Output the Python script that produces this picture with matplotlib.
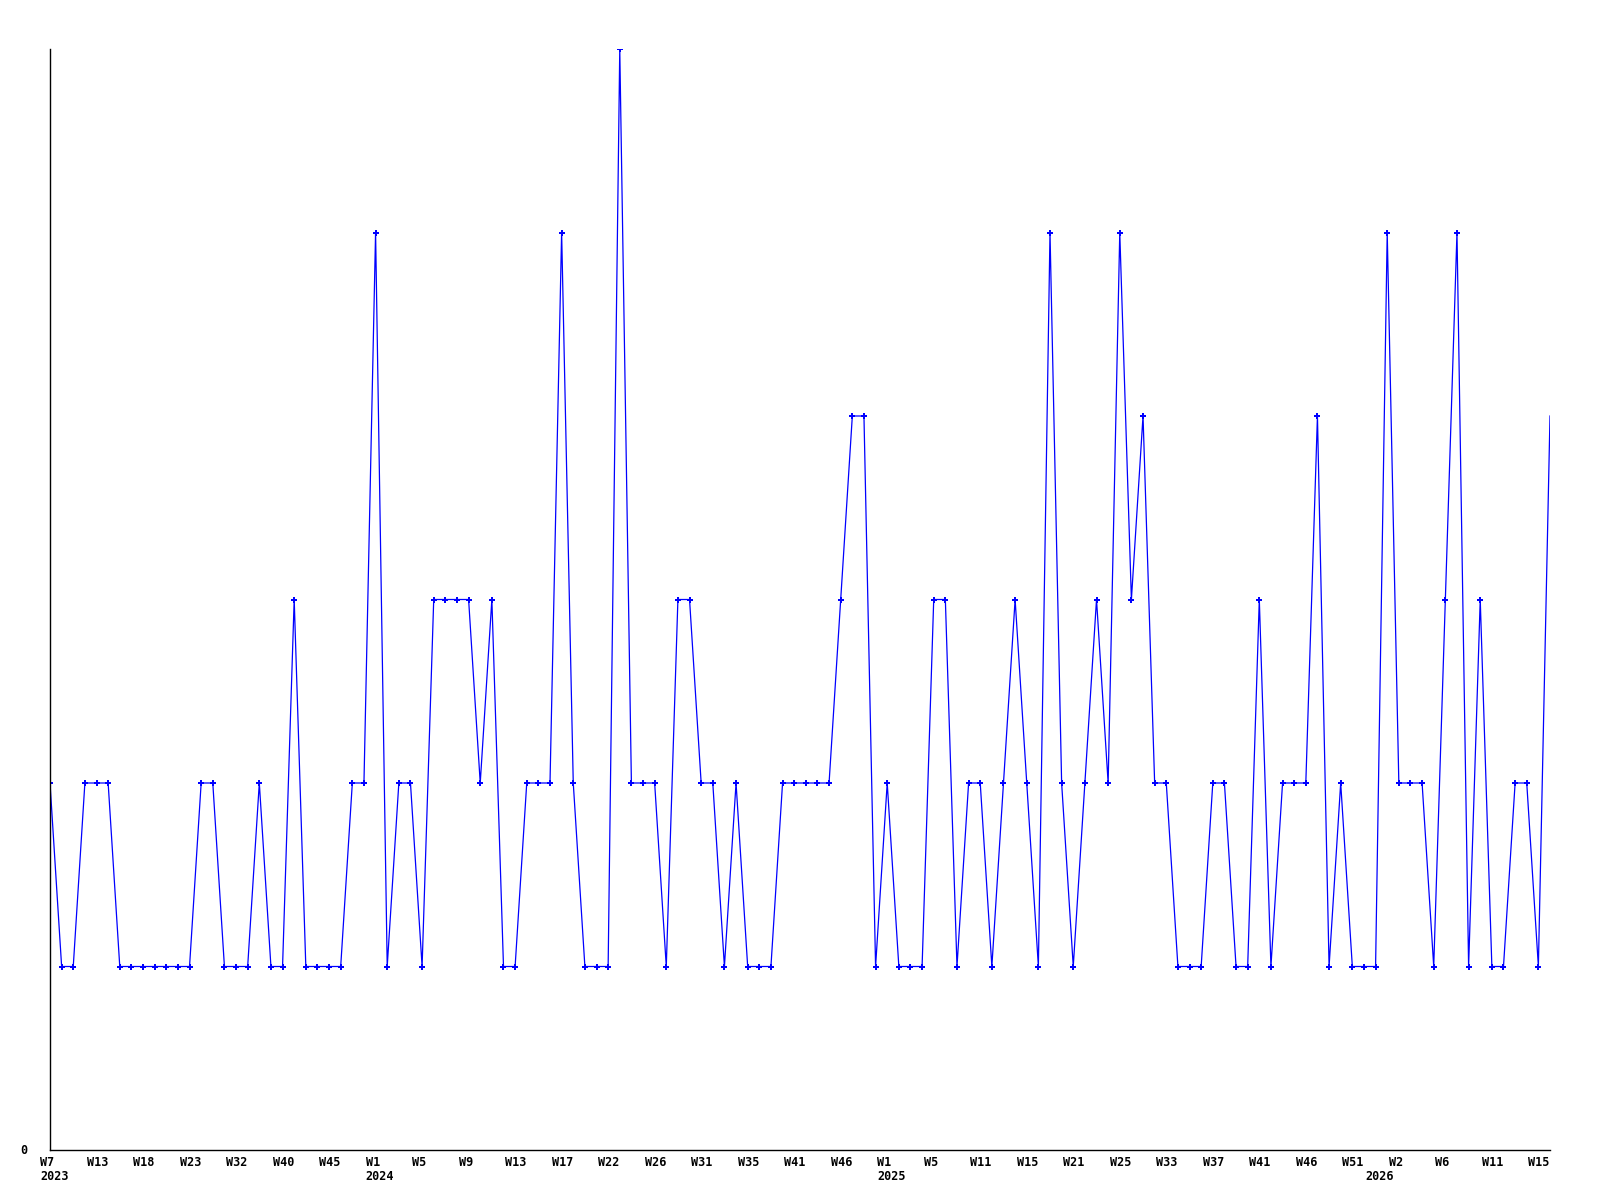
import matplotlib
matplotlib.use('Agg')
import matplotlib.pyplot as plt
import matplotlib.transforms as mtransforms

# weekly counts, one point per week that had data
counts = [2, 1, 1, 2, 2, 2, 1, 1, 1, 1,
          1, 1, 1, 2, 2, 1, 1, 1, 2, 1,
          1, 3, 1, 1, 1, 1, 2, 2, 5, 1,
          2, 2, 1, 3, 3, 3, 3, 2, 3, 1,
          1, 2, 2, 2, 5, 2, 1, 1, 1, 6,
          2, 2, 2, 1, 3, 3, 2, 2, 1, 2,
          1, 1, 1, 2, 2, 2, 2, 2, 3, 4,
          4, 1, 2, 1, 1, 1, 3, 3, 1, 2,
          2, 1, 2, 3, 2, 1, 5, 2, 1, 2,
          3, 2, 5, 3, 4, 2, 2, 1, 1, 1,
          2, 2, 1, 1, 3, 1, 2, 2, 2, 4,
          1, 2, 1, 1, 1, 5, 2, 2, 2, 1,
          3, 5, 1, 3, 1, 1, 2, 2, 1, 4]

# a label every 4th point
week_labels = ['W7', 'W13', 'W18', 'W23', 'W32', 'W40', 'W45', 'W1', 'W5', 'W9',
               'W13', 'W17', 'W22', 'W26', 'W31', 'W35', 'W41', 'W46', 'W1', 'W5',
               'W11', 'W15', 'W21', 'W25', 'W33', 'W37', 'W41', 'W46', 'W51', 'W2',
               'W6', 'W11', 'W15']
label_step = 4

years = ['2023', '2024', '2025', '2026']
year_pos = [0, 28, 72, 114]

fig = plt.figure(figsize=(16, 12), dpi=100)
ax = fig.add_axes([50/1600, 1 - 1150/1200, 1500/1600, 1101/1200])

x = list(range(len(counts)))
# last point is drawn without a marker, as in the original
ax.plot(x, counts, color='#0000ff', linewidth=0.9, marker='P',
        markersize=5, markeredgewidth=0, markevery=slice(0, len(counts) - 1))

ax.set_xlim(0, len(counts) - 1)
ax.set_ylim(0, 6)

for s in ['top', 'right']:
    ax.spines[s].set_visible(False)
for s in ['left', 'bottom']:
    ax.spines[s].set_color('black')
    ax.spines[s].set_linewidth(1.0)

ax.set_xticks([])
ax.set_yticks([])

font = dict(family='DejaVu Sans Mono', fontweight='bold', fontsize=8.5)
shift = mtransforms.ScaledTranslation(-10/100, 0, fig.dpi_scale_trans)
trans = mtransforms.blended_transform_factory(ax.transData, fig.transFigure) + shift

for i, lab in enumerate(week_labels):
    ax.text(i * label_step, 1 - 1162/1200, lab, transform=trans,
            ha='left', va='center', **font)
for pos, yr in zip(year_pos, years):
    ax.text(pos, 1 - 1177/1200, yr, transform=trans,
            ha='left', va='center', **font)

fig.text(20/1600, 1 - 1151/1200, '0', ha='left', va='center', **font)

fig.savefig('out.png', dpi=100, facecolor='white')
plt.close(fig)
